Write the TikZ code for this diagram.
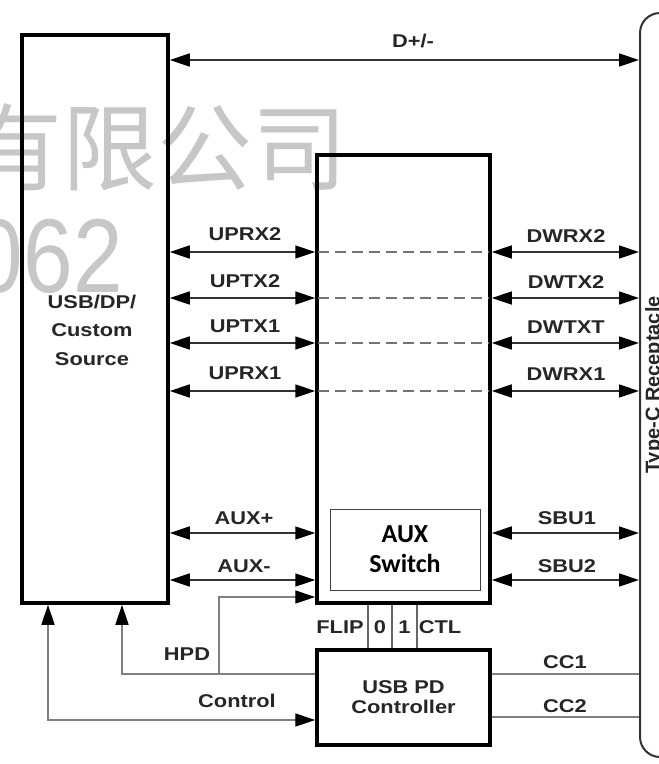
\documentclass[tikz,border=0pt]{standalone}
\usepackage{fontspec}
\usetikzlibrary{arrows.meta,calc}
\newfontfamily\labf{Liberation Sans}[FakeStretch=1.18]
\newfontfamily\rotf{Liberation Sans}
\newfontfamily\calf{Carlito}
\newfontfamily\cjkf{Noto Sans CJK SC}
\begin{document}
\begin{tikzpicture}[x=1pt,y=-1pt,
  lbl/.style={font=\labf\bfseries\fontsize{18.5}{20}\selectfont, inner sep=0pt, anchor=base, text=black!85},
  blk/.style={draw=black, line width=3.5pt, inner sep=0pt},
  tip/.style={},
  sig/.style={line width=1.5pt, draw=black!80, {Triangle[length=20pt,width=13pt,color=black]}-{Triangle[length=20pt,width=13pt,color=black]}},
  sigone/.style={line width=1.4pt, draw=black!50, -{Triangle[length=20pt,width=13pt,color=black]}},
  sigtwo/.style={line width=1.4pt, draw=black!50, {Triangle[length=20pt,width=13pt,color=black]}-{Triangle[length=20pt,width=13pt,color=black]}},
  plain/.style={line width=1.4pt, draw=black!50},
  dashline/.style={line width=1.8pt, draw=black!55, dash pattern=on 11pt off 6pt, shorten <=3pt, shorten >=3pt},
  wm/.style={inner sep=0pt, text=black!22}
]
\useasboundingbox (0,0) rectangle (659,764);
\fill[white] (0,0) rectangle (659,764);
\clip (0,0) rectangle (659,764);

% watermark
\node[wm, anchor=base east, font=\cjkf\fontsize{95}{95}\selectfont] (wm1) at (348,183) {有限公司};
\node[wm, anchor=base east, font=\rotf\fontsize{105}{105}\selectfont, xscale=0.85, transform shape] (wm2) at (123,292) {062};

% blocks
\node[blk, minimum width=146pt, minimum height=568pt] (src) at (95,319) {};
\node[inner sep=0pt, align=center, font=\labf\bfseries\fontsize{18.5}{28.5}\selectfont, text=black!85] (srct) at (92,330) {USB/DP/\\Custom\\Source};
\node[blk, minimum width=173pt, minimum height=448pt] (mux) at (403.5,379) {};
\node[draw=black!75, line width=1pt, minimum width=150pt, minimum height=81pt, inner sep=0pt, align=center, font=\calf\bfseries\fontsize{26}{30}\selectfont] (auxsw) at (405,549.5) {AUX\\Switch};
\node[blk, minimum width=173pt, minimum height=95pt, align=center, font=\labf\bfseries\fontsize{18.5}{20}\selectfont, text=black!85] (pdc) at (403.5,697.5) {USB PD\\Controller};
\node[draw=black!80, line width=2pt, rounded corners=20pt, minimum width=100pt, minimum height=744pt, inner sep=0pt] (rcpt) at (690,385) {};
\node[inner sep=0pt, rotate=90, anchor=north, font=\rotf\bfseries\fontsize{20}{22}\selectfont, text=black!85] (rlab) at (645,385) {Type-C Receptacle};

% helper coordinates
\coordinate (yd) at (0,60);
\coordinate (y1) at (0,252);
\coordinate (y2) at (0,298);
\coordinate (y3) at (0,343);
\coordinate (y4) at (0,391);
\coordinate (ya) at (0,533);
\coordinate (yb) at (0,580);
\coordinate (yh) at (0,597);
\coordinate (yp) at (0,674);
\coordinate (yc) at (0,720);
\coordinate (yc2) at (0,717);
\coordinate (xc) at (48,0);
\coordinate (xh) at (122,0);
\coordinate (xb) at (219,0);
\coordinate (f1) at (368,0);
\coordinate (f2) at (392,0);
\coordinate (f3) at (417,0);

% D+/-
\draw[sig] (src.east |- yd) -- (rcpt.west |- yd);
\node[lbl] (ldp) at (413,47) {D+/-};

% high speed lanes
\foreach \c in {y1,y2,y3,y4,ya,yb}{
  \draw[sig] (src.east |- \c) -- (mux.west |- \c);
  \draw[sig] (mux.east |- \c) -- (rcpt.west |- \c);
}
\foreach \c in {y1,y2,y3,y4}{
  \draw[dashline] (mux.west |- \c) -- (mux.east |- \c);
}
\node[lbl] (l1) at (245,240) {UPRX2};
\node[lbl] (l2) at (245,287) {UPTX2};
\node[lbl] (l3) at (245,332) {UPTX1};
\node[lbl] (l4) at (245,379) {UPRX1};
\node[lbl] (r1) at (566,242) {DWRX2};
\node[lbl] (r2) at (566,288) {DWTX2};
\node[lbl] (r3) at (566,333) {DWTXT};
\node[lbl] (r4) at (566,380) {DWRX1};
\node[lbl] (la) at (244,524) {AUX+};
\node[lbl] (lb) at (244,572) {AUX-};
\node[lbl] (ra) at (567,524) {SBU1};
\node[lbl] (rb) at (567,572) {SBU2};

% control signals
\draw[sigone] (pdc.west |- yp) -| (xh |- src.south);
\draw[sigone] (xb |- yp) |- (mux.west |- yh);
\draw[sigtwo] (xc |- src.south) |- (pdc.west |- yc);
\node[lbl] (lhpd) at (187,660) {HPD};
\node[lbl] (lctl) at (237,707) {Control};

% FLIP / 0 / 1 / CTL
\foreach \f in {f1,f2,f3}{
  \draw[line width=1.1pt, draw=black!60] (\f |- mux.south) -- (\f |- pdc.north);
}
\node[lbl] (tflip) at (340,633) {FLIP};
\node[lbl] (t0) at (380,633) {0};
\node[lbl] (t1) at (404.5,633) {1};
\node[lbl] (tctl) at (440,633) {CTL};

% CC lines
\draw[plain] (pdc.east |- yp) -- (rcpt.west |- yp);
\draw[plain] (pdc.east |- yc2) -- (rcpt.west |- yc2);
\node[lbl] (lcc1) at (565,668) {CC1};
\node[lbl] (lcc2) at (565,712) {CC2};
\end{tikzpicture}
\end{document}
